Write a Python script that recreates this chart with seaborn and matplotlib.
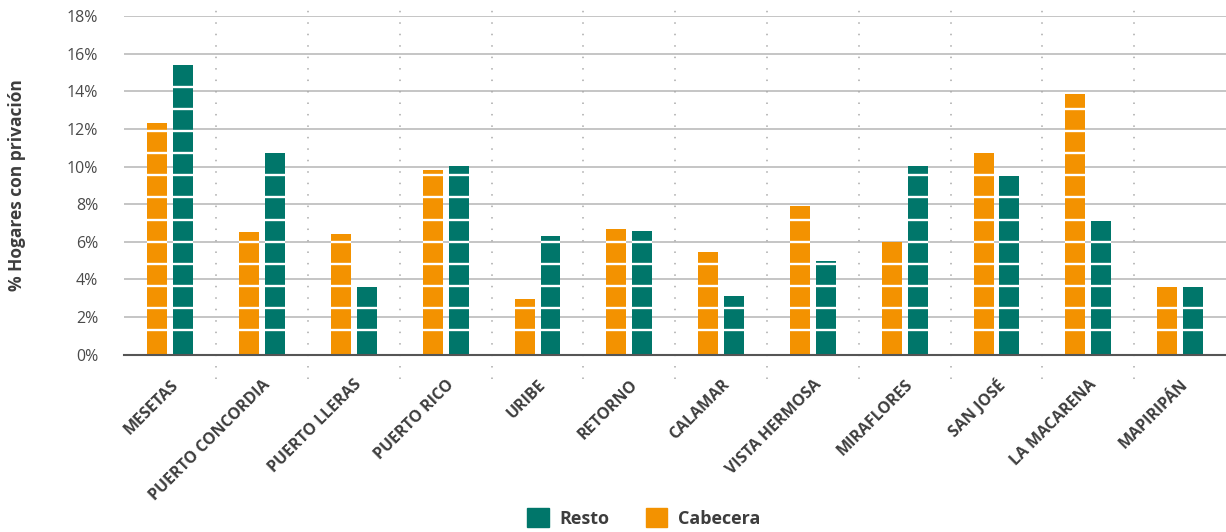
import numpy as np
import pandas as pd
import matplotlib.pyplot as plt
import seaborn as sns
from matplotlib.patches import Patch

municipios = ['MESETAS', 'PUERTO CONCORDIA', 'PUERTO LLERAS', 'PUERTO RICO', 'URIBE',
              'RETORNO', 'CALAMAR', 'VISTA HERMOSA', 'MIRAFLORES', 'SAN JOSÉ',
              'LA MACARENA', 'MAPIRIPÁN']
cabecera = [12.3, 6.5, 6.4, 9.8, 2.95, 6.7, 5.45, 7.9, 6.0, 10.7, 13.85, 3.6]
resto = [15.4, 10.7, 3.6, 10.05, 6.3, 6.55, 3.1, 5.0, 10.05, 9.5, 7.1, 3.6]
yticks = [0, 2, 4, 6, 8, 10, 12, 14, 16, 18]
# white separators inside the bars
cortes = [1.3, 2.47, 3.65, 4.83, 6.0, 7.18, 8.36, 9.54, 10.72, 11.9, 13.08, 14.26, 15.44]

df = pd.DataFrame({
    'Municipio': municipios * 2,
    'Zona': ['Cabecera'] * len(municipios) + ['Resto'] * len(municipios),
    'Valor': cabecera + resto,
})

naranja = '#F39200'
verde = '#00766A'
gris = '#3d3d3d'

sns.set_style('white')
plt.rcParams['font.family'] = ['Open Sans', 'DejaVu Sans']

fig = plt.figure(figsize=(12.26, 5.32), dpi=100)
ax = fig.add_axes([0.1015, 0.3336, 0.8985, 0.6358])

sns.barplot(data=df, x='Municipio', y='Valor', hue='Zona', hue_order=['Cabecera', 'Resto'],
            palette=[naranja, verde], saturation=1, width=0.565, gap=0.23, errorbar=None,
            legend=False, ax=ax, zorder=2, linewidth=0)

# separators only across the bars
for p in ax.patches:
    h = p.get_height()
    x0, x1 = p.get_x(), p.get_x() + p.get_width()
    for c in cortes:
        if c < h - 0.15:
            ax.plot([x0, x1], [c, c], color='white', lw=1.7, zorder=3, solid_capstyle='butt')

ax.set_xlim(-0.5, 11.5)
ax.set_ylim(0, 18)
ax.set_yticks(yticks)
ax.set_yticklabels([f'{t}%' for t in yticks], fontsize=11.5, color='#4a4a4a')
ax.yaxis.grid(True, color='#b5b5b5', lw=1.1, zorder=0)
ax.set_axisbelow(True)
for s in ['top', 'right', 'left']:
    ax.spines[s].set_visible(False)
ax.spines['bottom'].set_color('#555555')
ax.spines['bottom'].set_linewidth(1.5)
ax.tick_params(axis='both', length=0)
ax.tick_params(axis='y', pad=19)

# dotted separators between municipalities
for k in range(len(municipios) - 1):
    ax.axvline(k + 0.5, ymin=-0.072, ymax=1.03, color='#aaaaaa', lw=1.1,
               linestyle=(0, (1, 6.5)), clip_on=False, zorder=1)

ax.set_xticks(range(len(municipios)))
ax.set_xticklabels(municipios, rotation=45, ha='right', rotation_mode='anchor',
                   fontsize=11.5, fontweight='bold', color=gris)
ax.tick_params(axis='x', pad=16)
ax.set_xlabel('')
ax.set_ylabel('% Hogares con privación', fontsize=12.5, fontweight='bold', color=gris)
ax.yaxis.set_label_coords(-0.089, 0.5)

handles = [Patch(color=verde, label='Resto'), Patch(color=naranja, label='Cabecera')]
fig.legend(handles=handles, loc='center', bbox_to_anchor=(0.525, 0.026), ncol=2,
           frameon=False, handlelength=1.2, handleheight=1.2, handletextpad=0.6,
           columnspacing=2.0, prop={'size': 13, 'weight': 'bold'}, labelcolor=gris)

fig.savefig('out.png', dpi=100)
